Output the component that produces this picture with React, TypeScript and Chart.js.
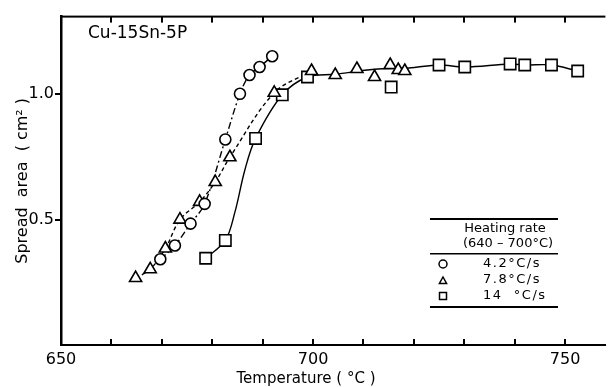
import React, { useEffect, useRef } from "react";
import { Chart, registerables } from "chart.js";

Chart.register(...registerables);

// ---- data ----
// 4.2 °C/s (circles)
const circleTemp = [669.7, 672.6, 675.7, 678.5, 682.6, 685.5, 687.4, 689.4, 691.9];
const circleArea = [0.342, 0.397, 0.484, 0.563, 0.82, 1.002, 1.077, 1.109, 1.152];
// 7.8 °C/s (triangles)
const triTemp = [664.8, 667.7, 670.7, 673.6, 677.5, 680.6, 683.5, 692.3, 699.7, 704.4, 708.7, 712.2, 715.3, 716.9, 718.2];
const triArea = [0.267, 0.302, 0.385, 0.5, 0.571, 0.65, 0.749, 1.006, 1.093, 1.077, 1.101, 1.069, 1.117, 1.097, 1.093];
// 14 °C/s (squares)
const sqTemp = [678.7, 682.6, 688.6, 693.9, 698.9, 715.5, 725.0, 730.1, 739.1, 742.0, 747.3, 752.5];
const sqArea = [0.346, 0.417, 0.824, 0.998, 1.069, 1.029, 1.117, 1.109, 1.121, 1.117, 1.117, 1.093];

// fitted curves (as drawn in the reference)
const circleCurveTemp = circleTemp;
const circleCurveArea = circleArea;
const triCurveTemp = [664.8, 667.7, 670.7, 673.6, 677.5, 680.6, 683.5, 692.3, 699.7];
const triCurveArea = [0.267, 0.302, 0.385, 0.5, 0.571, 0.65, 0.749, 1.006, 1.093];
const sqCurveTemp = [678.7, 682.6, 684.5, 686.5, 688.6, 693.9, 698.9, 704.4, 712.2, 719.0, 725.0, 730.1, 739.1, 742.0, 747.3, 752.5];
const sqCurveArea = [0.346, 0.417, 0.53, 0.7, 0.824, 0.998, 1.069, 1.08, 1.1, 1.105, 1.117, 1.109, 1.121, 1.117, 1.117, 1.093];

const xMinorTicks = [660, 670, 680, 690, 700, 710, 720, 730, 740, 750];
const xTickLabels = [650, 700, 750];
const yTickLabels = [0.5, 1.0];
const legendRates = ["4.2°C/s", "7.8°C/s", "14  °C/s"];

const FONT = "'DejaVu Sans', 'Liberation Sans', sans-serif";

const pts = (xs: number[], ys: number[]) => xs.map((x, i) => ({ x, y: ys[i] }));

function drawSymbol(ctx: CanvasRenderingContext2D, kind: string, cx: number, cy: number, r: number) {
  ctx.beginPath();
  if (kind === "circle") {
    ctx.arc(cx, cy, r, 0, Math.PI * 2);
  } else if (kind === "triangle") {
    ctx.moveTo(cx, cy - r);
    ctx.lineTo(cx + r * 0.9, cy + r * 0.6);
    ctx.lineTo(cx - r * 0.9, cy + r * 0.6);
    ctx.closePath();
  } else {
    ctx.rect(cx - r, cy - r, 2 * r, 2 * r);
  }
  ctx.fillStyle = "#fff";
  ctx.fill();
  ctx.stroke();
}

const framePlugin = {
  id: "frame",
  afterDraw(chart: any) {
    const ctx: CanvasRenderingContext2D = chart.ctx;
    const area = chart.chartArea;
    const left = area.left, right = area.right, top = area.top, bottom = area.bottom;
    const xs = chart.scales.x;
    const ys = chart.scales.y;
    ctx.save();
    ctx.setLineDash([]);
    ctx.strokeStyle = "#000";
    ctx.fillStyle = "#000";
    // top border
    ctx.fillRect(left, top - 1, right - left, 2);
    // inward ticks on bottom and top
    xMinorTicks.forEach((v) => {
      const px = Math.round(xs.getPixelForValue(v));
      ctx.fillRect(px - 1, bottom - 6, 2, 6);
      ctx.fillRect(px - 1, top, 2, 6);
    });
    // outward y ticks
    yTickLabels.forEach((v) => {
      const py = Math.round(ys.getPixelForValue(v));
      ctx.fillRect(left - 6, py - 1, 6, 2);
    });
    // axis titles
    ctx.font = `15px ${FONT}`;
    ctx.textAlign = "center";
    ctx.textBaseline = "alphabetic";
    ctx.fillText("Temperature ( °C )", xs.getPixelForValue(698.6), 383);
    ctx.save();
    ctx.translate(27, (top + bottom) / 2);
    ctx.rotate(-Math.PI / 2);
    ctx.font = `16px ${FONT}`;
    ctx.fillText("Spread  area  ( cm² )", 0, 0);
    ctx.restore();
    // annotation
    ctx.font = `17px ${FONT}`;
    ctx.textAlign = "left";
    ctx.textBaseline = "middle";
    ctx.fillText("Cu-15Sn-5P", left + 27, 34);

    // legend table
    const lx0 = 430, lx1 = 558;
    ctx.fillRect(lx0, 218, lx1 - lx0, 2);
    ctx.font = `13px ${FONT}`;
    ctx.textAlign = "center";
    ctx.fillText("Heating rate", 505, 229);
    ctx.fillText("(640 – 700°C)", 508, 244);
    ctx.fillRect(lx0, 253, lx1 - lx0, 1.5);
    const kinds = ["circle", "triangle", "rect"];
    const rowsY = [264, 280, 296];
    ctx.lineWidth = 1.5;
    for (let i = 0; i < 3; i++) {
      drawSymbol(ctx, kinds[i], 443, rowsY[i] + (kinds[i] === "triangle" ? 1 : 0), kinds[i] === "rect" ? 3.5 : 4);
      ctx.fillStyle = "#000";
      ctx.textAlign = "left";
      (ctx as any).letterSpacing = "1.5px";
      ctx.fillText(legendRates[i], 483, rowsY[i]);
      (ctx as any).letterSpacing = "0px";
    }
    ctx.fillRect(lx0, 306, lx1 - lx0, 2);
    ctx.restore();
  },
};

export default function App() {
  const ref = useRef<HTMLCanvasElement | null>(null);
  useEffect(() => {
    if (!ref.current) return;
    const markerBase = {
      showLine: false,
      borderColor: "#000",
      backgroundColor: "#fff",
      pointBorderWidth: 1.6,
      pointBackgroundColor: "#fff",
      pointBorderColor: "#000",
      order: 0,
    };
    const curveBase = {
      borderColor: "#000",
      borderWidth: 1.4,
      pointRadius: 0,
      fill: false,
      tension: 0.35,
      order: 1,
    };
    const chart = new Chart(ref.current, {
      type: "line",
      data: {
        datasets: [
          { ...curveBase, label: "c4", data: pts(circleCurveTemp, circleCurveArea), borderDash: [7, 3, 2, 3] },
          { ...curveBase, label: "c7", data: pts(triCurveTemp, triCurveArea), borderDash: [4, 3] },
          { ...curveBase, label: "c14", data: pts(sqCurveTemp, sqCurveArea) },
          { ...markerBase, label: "4.2°C/s", data: pts(circleTemp, circleArea), pointStyle: "circle", pointRadius: 5.5 },
          { ...markerBase, label: "7.8°C/s", data: pts(triTemp, triArea), pointStyle: "triangle", pointRadius: 7 },
          { ...markerBase, label: "14 °C/s", data: pts(sqTemp, sqArea), pointStyle: "rect", pointRadius: 8 },
        ] as any,
      },
      options: {
        animation: false,
        responsive: false,
        devicePixelRatio: 1,
        layout: { padding: { top: 13, right: 0, left: 0, bottom: 0 } },
        plugins: { legend: { display: false }, tooltip: { enabled: false } },
        scales: {
          x: {
            type: "linear",
            min: 650,
            max: 758,
            afterFit: (s: any) => { s.height = 42; },
            grid: { display: true, drawOnChartArea: false, drawTicks: false },
            border: { display: true, color: "#000", width: 2 },
            ticks: {
              stepSize: 10,
              includeBounds: false,
              autoSkip: false,
              maxRotation: 0,
              padding: 5,
              color: "#000",
              font: { family: FONT, size: 16 },
              callback: (v: any) => (xTickLabels.includes(Number(v)) ? String(v) : ""),
            },
          },
          y: {
            type: "linear",
            min: 0,
            max: 1.31,
            afterFit: (s: any) => { s.width = 61; },
            grid: { display: true, drawOnChartArea: false, drawTicks: false },
            border: { display: true, color: "#000", width: 2.5 },
            ticks: {
              stepSize: 0.5,
              includeBounds: false,
              padding: 7,
              color: "#000",
              font: { family: FONT, size: 16 },
              callback: (v: any) => (yTickLabels.includes(Number(v)) ? Number(v).toFixed(1) : ""),
            },
          },
        },
      },
      plugins: [framePlugin],
    });
    return () => chart.destroy();
  }, []);
  return (
    <div style={{ position: "fixed", left: 0, top: 0, width: 615, height: 387, background: "#fff" }}>
      <canvas ref={ref} width={615} height={387} style={{ display: "block" }} />
    </div>
  );
}
